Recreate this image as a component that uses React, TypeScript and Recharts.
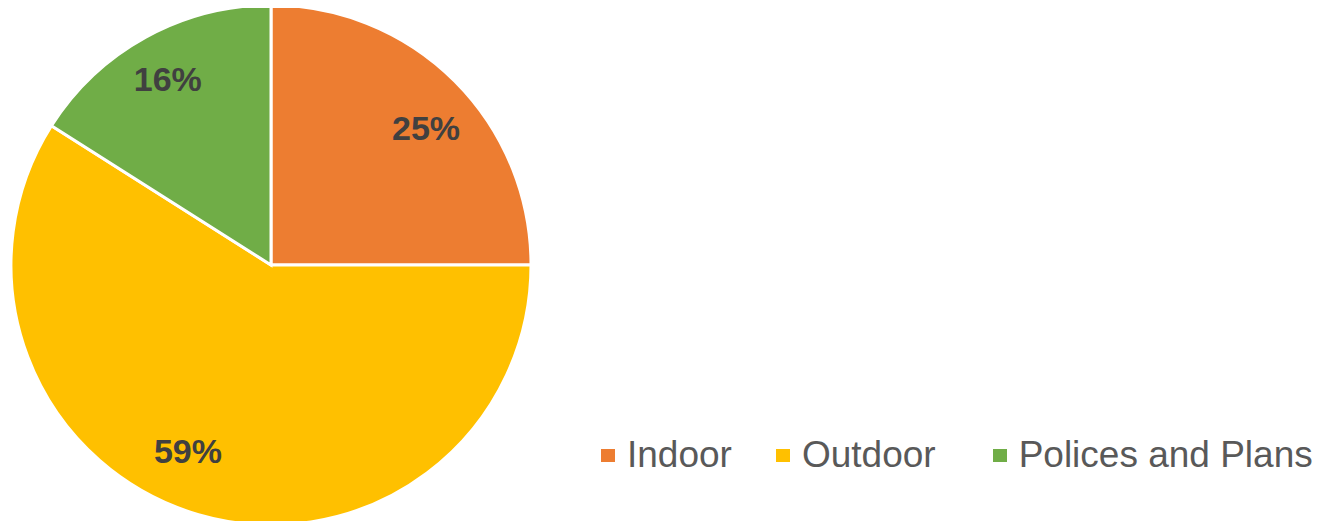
import { PieChart, Pie, Cell, Legend } from "recharts";

const categories = ["Indoor", "Outdoor", "Polices and Plans"];
const shares = [25, 59, 16];
const colors = ["#ED7D31", "#FFC000", "#70AD47"];

const data = categories.map((name, i) => ({ name, value: shares[i] }));

const RAD = Math.PI / 180;
// small nudges so labels sit roughly where the spreadsheet's best-fit put them
const labelNudge = [
  { dx: 8, dy: 10 },
  { dx: -25, dy: -14 },
  { dx: -3, dy: -4 },
];

function renderLabel(props: any) {
  const { cx, cy, midAngle, outerRadius, index, value } = props;
  const r = outerRadius * 0.8;
  const x = cx + r * Math.cos(-midAngle * RAD) + labelNudge[index].dx;
  const y = cy + r * Math.sin(-midAngle * RAD) + labelNudge[index].dy;
  return (
    <text
      x={x}
      y={y}
      fill="#404040"
      textAnchor="middle"
      dominantBaseline="central"
      fontFamily="'Liberation Sans', Arial, sans-serif"
      fontWeight="bold"
      fontSize={34}
    >
      {`${value}%`}
    </text>
  );
}

const legendGap = [44, 57, 0];

function LegendContent({ payload }: any) {
  return (
    <div style={{ display: "flex", alignItems: "center" }}>
      {(payload || []).map((p: any, i: number) => (
        <div
          key={p.value}
          style={{ display: "flex", alignItems: "center", marginRight: legendGap[i] }}
        >
          <span
            style={{
              width: 14,
              height: 13,
              background: p.color,
              display: "inline-block",
              marginRight: 12,
            }}
          />
          <span
            style={{
              fontFamily: "'Liberation Sans', Arial, sans-serif",
              fontSize: 37,
              color: "#595959",
              lineHeight: "40px",
            }}
          >
            {p.value}
          </span>
        </div>
      ))}
    </div>
  );
}

export default function App() {
  return (
    <div style={{ margin: "-8px 0 0 -8px" }}>
      <PieChart width={1328} height={540} margin={{ top: 0, right: 0, bottom: 0, left: 0 }}>
        <Pie
          data={data}
          dataKey="value"
          nameKey="name"
          cx={271}
          cy={265}
          outerRadius={260}
          startAngle={90}
          endAngle={-270}
          stroke="#ffffff"
          strokeWidth={3}
          label={renderLabel}
          labelLine={false}
          isAnimationActive={false}
        >
          {data.map((d, i) => (
            <Cell key={d.name} fill={colors[i]} />
          ))}
        </Pie>
        <Legend
          content={<LegendContent />}
          wrapperStyle={{ position: "absolute", left: 601, top: 435, width: 720 }}
        />
      </PieChart>
    </div>
  );
}
